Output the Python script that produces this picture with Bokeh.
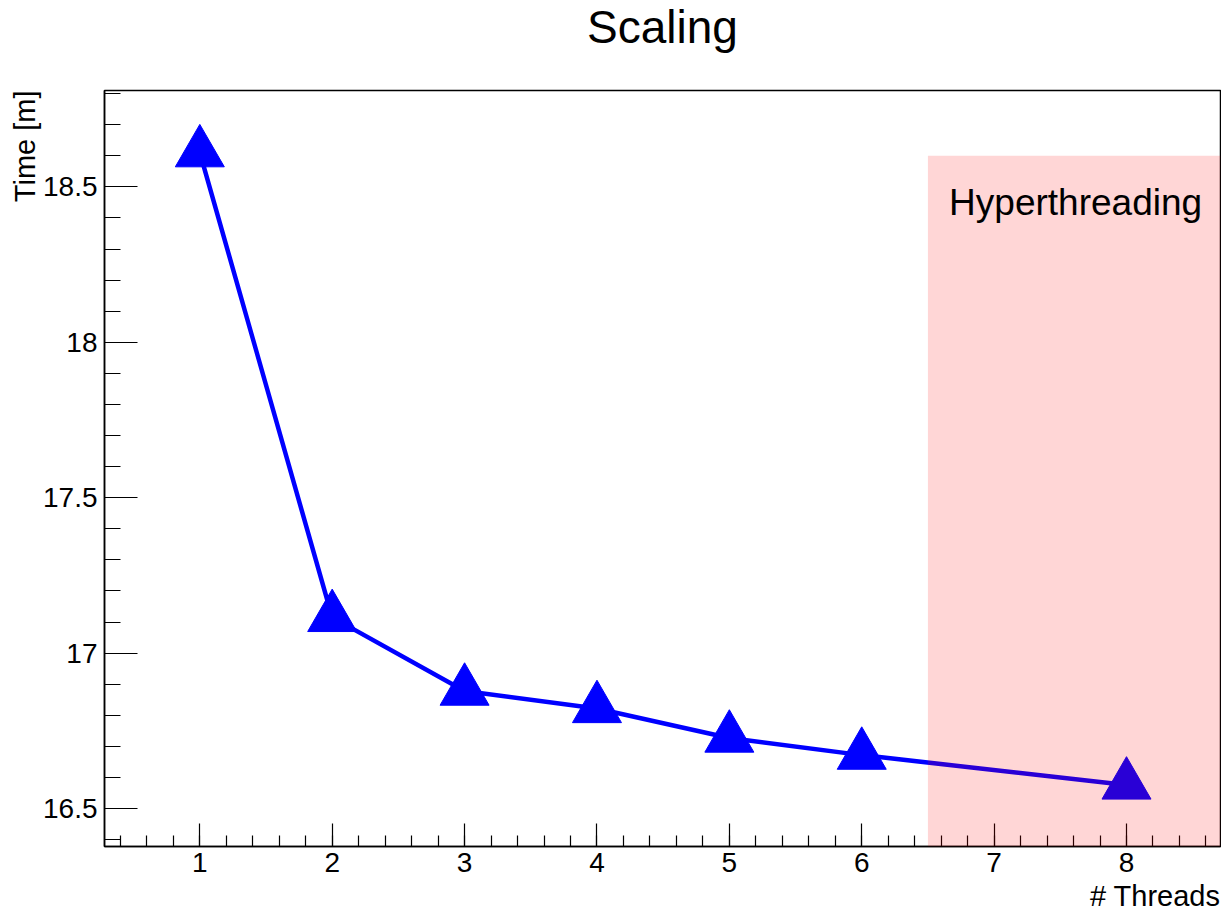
import numpy as np
from bokeh.plotting import figure
from bokeh.models import Range1d, FixedTicker, BoxAnnotation, Label, Title
from bokeh.embed import file_html
from bokeh.resources import INLINE

threads = [1, 2, 3, 4, 5, 6, 8]
time_m = [18.61, 17.115, 16.878, 16.822, 16.727, 16.672, 16.576]
x_major = [1, 2, 3, 4, 5, 6, 7, 8]
y_major = [16.5, 17.0, 17.5, 18.0, 18.5]
ht_start = 6.5
ht_top = 18.6
x_lo, x_hi = 0.28, 8.71
y_lo, y_hi = 16.378, 18.81

FONT = "Liberation Sans"

p = figure(width=1221, height=915, output_backend="svg", toolbar_location=None,
           x_range=Range1d(x_lo, x_hi), y_range=Range1d(y_lo, y_hi),
           min_border_left=104, min_border_right=1, min_border_top=90, min_border_bottom=69)

p.title.text = "Scaling"
p.title.align = "center"
p.title.vertical_align = "top"
p.title.text_font = FONT
p.title.text_font_size = "46px"
p.title.text_font_style = "normal"
p.title.text_color = "black"
p.title.standoff = 0

# blank spacer between the title and the frame
p.add_layout(Title(text=" ", text_font_size="2px", standoff=32), "above")

p.grid.visible = False
p.outline_line_color = "black"
p.outline_line_width = 1.5
p.background_fill_color = "white"
p.border_fill_color = "white"

x_minor = list(np.round(np.arange(0.4, 8.71, 0.2), 2))
y_minor = list(np.round(np.arange(16.4, 18.81, 0.1), 2))
p.xaxis.ticker = FixedTicker(ticks=x_major, minor_ticks=x_minor)
p.yaxis.ticker = FixedTicker(ticks=y_major, minor_ticks=y_minor)
p.yaxis.major_label_overrides = {16.5: "16.5", 17.0: "17", 17.5: "17.5", 18.0: "18", 18.5: "18.5"}

for ax in (p.xaxis, p.yaxis):
    ax.axis_line_color = "black"
    ax.axis_line_width = 1.5
    ax.major_tick_out = 0
    ax.minor_tick_out = 0
    ax.major_tick_line_color = "black"
    ax.minor_tick_line_color = "black"
    ax.major_tick_line_width = 1.2
    ax.minor_tick_line_width = 1.2
    ax.major_label_text_font = FONT
    ax.major_label_text_font_size = "28px"
    ax.major_label_text_color = "black"

p.xaxis.major_label_standoff = 6
p.yaxis.major_label_standoff = 7
p.xaxis.major_tick_in = 23
p.xaxis.minor_tick_in = 11
p.yaxis.major_tick_in = 33
p.yaxis.minor_tick_in = 16

p.line(threads, time_m, line_color="blue", line_width=4.5)
p.scatter(threads, time_m, marker="triangle", size=49, fill_color="blue", line_color="blue")

box = BoxAnnotation(left=ht_start, top=ht_top, fill_color="red", fill_alpha=0.16,
                    line_alpha=0, level="overlay")
p.add_layout(box)

p.add_layout(Label(x=6.66, y=18.45, text="Hyperthreading", text_font=FONT,
                   text_font_size="37px", text_color="black", text_baseline="alphabetic",
                   level="overlay"))

p.add_layout(Title(text="Time [m]", align="right", text_font=FONT, text_font_size="29px",
                   text_font_style="normal", text_color="black", standoff=0, offset=0), "left")
p.add_layout(Title(text="# Threads", align="right", text_font=FONT, text_font_size="29px",
                   text_font_style="normal", text_color="black", standoff=6, offset=0), "below")

open("out.html", "w").write(file_html(p, INLINE))
